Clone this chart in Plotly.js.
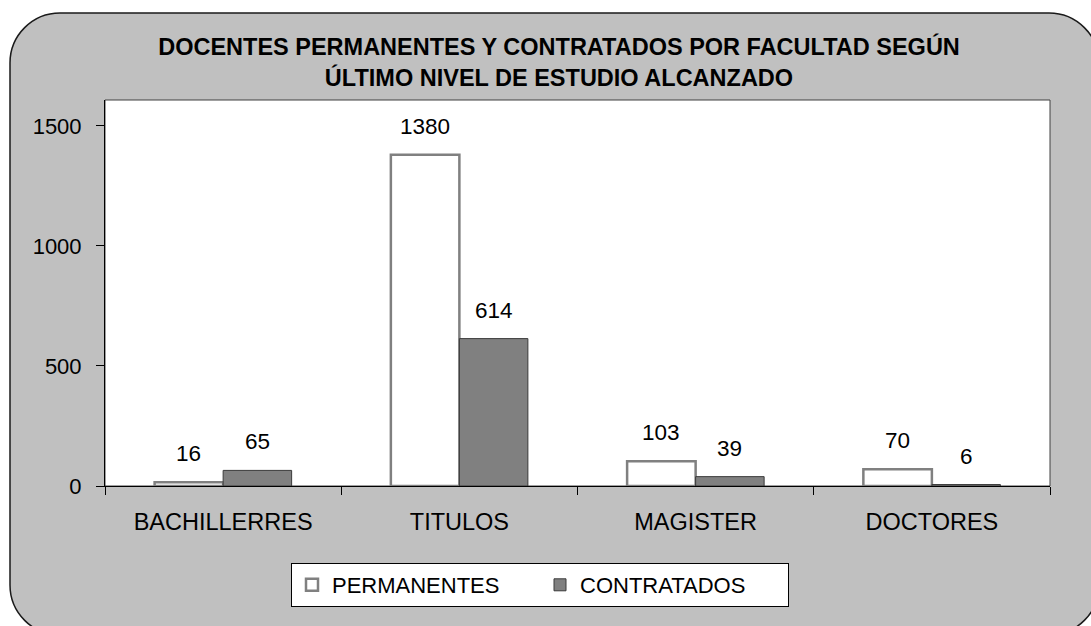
<!DOCTYPE html>
<html>
<head>
<meta charset="utf-8">
<script src="https://cdn.plot.ly/plotly-3.0.1.min.js"></script>
<style>html,body{margin:0;padding:0;background:#fff}#chart{width:1091px;height:626px}</style>
</head>
<body>
<div id="chart"></div>
<script>
const categories = ["BACHILLERRES", "TITULOS", "MAGISTER", "DOCTORES"];
const permanentes = [16, 1380, 103, 70];
const contratados = [65, 614, 39, 6];
const seriesNames = ["PERMANENTES", "CONTRATADOS"];
const yTicks = [0, 500, 1000, 1500];
const titleText = "DOCENTES PERMANENTES Y CONTRATADOS POR FACULTAD SEGÚN<br>ÚLTIMO NIVEL DE ESTUDIO ALCANZADO";

const W = 1091, H = 626;
const M = {l: 105, r: 41, t: 100, b: 140};
const plotW = W - M.l - M.r, plotH = H - M.t - M.b;
const FONT = "Liberation Sans, Arial, sans-serif";
const bargap = 0.42;

// pixel -> paper helpers for the rounded background panel
const px = v => (v - M.l) / plotW;
const py = v => (H - M.b - v) / plotH;
function roundedRect(x0, y0, x1, y1, r) {
  const k = 0.5523 * r;
  const P = (x, y) => px(x) + "," + py(y);
  return "M" + P(x0 + r, y0) +
    " L" + P(x1 - r, y0) +
    " C" + P(x1 - r + k, y0) + " " + P(x1, y0 + r - k) + " " + P(x1, y0 + r) +
    " L" + P(x1, y1 - r) +
    " C" + P(x1, y1 - r + k) + " " + P(x1 - r + k, y1) + " " + P(x1 - r, y1) +
    " L" + P(x0 + r, y1) +
    " C" + P(x0 + r - k, y1) + " " + P(x0, y1 - r + k) + " " + P(x0, y1 - r) +
    " L" + P(x0, y0 + r) +
    " C" + P(x0, y0 + r - k) + " " + P(x0 + r - k, y0) + " " + P(x0 + r, y0) + " Z";
}

const traces = [
  {type: "bar", name: seriesNames[0], x: categories, y: permanentes,
   marker: {color: "#ffffff", line: {color: "#808080", width: 2.5}}, hoverinfo: "skip"},
  {type: "bar", name: seriesNames[1], x: categories, y: contratados,
   marker: {color: "#808080", line: {color: "#3a3a3a", width: 1}}, hoverinfo: "skip"}
];

const half = (1 - bargap) / 4;
const annotations = [];
[permanentes, contratados].forEach((vals, s) => {
  vals.forEach((v, i) => {
    annotations.push({
      x: i + (s === 0 ? -half : half), y: v, xref: "x", yref: "y",
      text: String(v), showarrow: false, yanchor: "bottom", yshift: 14,
      font: {family: FONT, size: 22.5, color: "#000"}
    });
  });
});

const layout = {
  width: W, height: H,
  margin: M,
  paper_bgcolor: "#ffffff",
  plot_bgcolor: "rgba(0,0,0,0)",
  font: {family: FONT, size: 22, color: "#000"},
  title: {text: titleText, x: 559 / W, xanchor: "center", xref: "container",
          y: 1 - 55 / H, yanchor: "top", yref: "container",
          font: {family: FONT, size: 23.5, color: "#000", weight: "bold"}},
  barmode: "group", bargap: bargap, bargroupgap: 0,
  showlegend: true,
  legend: {orientation: "h", x: px(540), xanchor: "center", y: py(563), yanchor: "top",
           bgcolor: "#ffffff", bordercolor: "#000", borderwidth: 1,
           font: {family: FONT, size: 22, color: "#000"},
           entrywidth: 203, itemclick: false, itemdoubleclick: false},
  xaxis: {type: "category", range: [-0.5, categories.length - 0.5],
          showline: true, linecolor: "#000", linewidth: 1, mirror: false,
          ticks: "outside", tickson: "boundaries", ticklen: 8, tickcolor: "#000",
          showgrid: false, zeroline: false, ticklabelstandoff: 15,
          tickfont: {family: FONT, size: 23.5, color: "#000"}, fixedrange: true},
  yaxis: {range: [0, 1608], tickvals: yTicks, ticktext: yTicks.map(String),
          showline: true, linecolor: "#000", linewidth: 1,
          ticks: "outside", ticklen: 8, tickcolor: "#000", showgrid: false, zeroline: false,
          ticklabelstandoff: 10,
          tickfont: {family: FONT, size: 22, color: "#000"}, fixedrange: true},
  shapes: [
    {type: "path", xref: "paper", yref: "paper", layer: "below",
     path: roundedRect(10, 13, 1099, 635, 50),
     fillcolor: "#c0c0c0", line: {color: "#1a1a1a", width: 1.5}},
    {type: "rect", xref: "paper", yref: "paper", layer: "below",
     x0: 0, x1: 1, y0: 0, y1: 1, fillcolor: "#ffffff", line: {color: "#404040", width: 1}}
  ],
  annotations: annotations
};

Plotly.newPlot("chart", traces, layout, {displayModeBar: false, staticPlot: true});
</script>
</body>
</html>
